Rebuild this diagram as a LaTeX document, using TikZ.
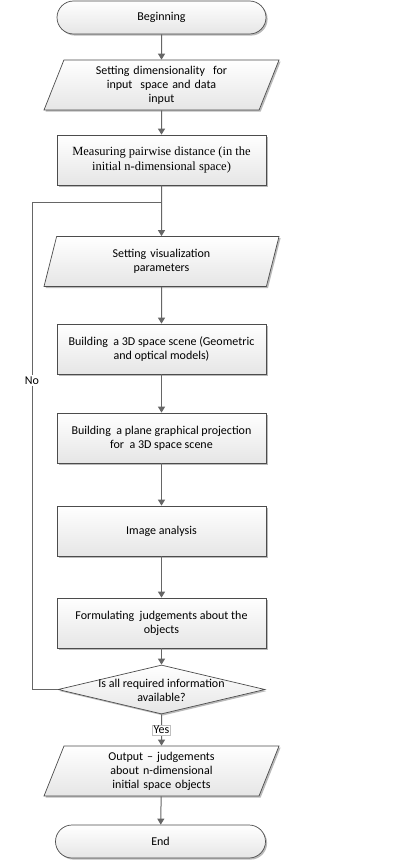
\documentclass[tikz,border=0pt]{standalone}
\usepackage{fontspec}
\setmainfont{Carlito}
\newfontfamily\tmsfont{Liberation Serif}
\usetikzlibrary{shapes.geometric,shapes.misc,shadows,arrows.meta}
\begin{document}
\begin{tikzpicture}[x=1pt,y=-1pt,
  base/.style={draw=black!70, line width=0.7pt, top color=white, bottom color=black!10,
    drop shadow={shadow xshift=1.6pt,shadow yshift=-1.6pt,fill=black!45,opacity=0.6},
    font=\fontsize{12}{14}\selectfont, align=center, text=black},
  proc/.style={base, rectangle, minimum width=209pt, minimum height=50pt, inner sep=0pt},
  term/.style={base, rounded rectangle, minimum width=209pt, minimum height=33pt, inner sep=0pt},
  io/.style={base, trapezium, trapezium left angle=62.5, trapezium right angle=117.5,
    trapezium stretches body, minimum width=235pt, minimum height=50pt, inner sep=0pt, text width=160pt},
  decis/.style={base, diamond, minimum width=207pt, minimum height=49pt, inner sep=0pt},
  txt/.style={font=\fontsize{12}{14}\selectfont, align=center, text=black, inner sep=0pt},
  conn/.style={draw=black!60, line width=1pt},
  arr/.style={conn, -{Triangle[width=7pt,length=6pt]}},
  lbl/.style={fill=white, font=\fontsize{12}{12}\selectfont, inner sep=1.2pt, text=black}
]
\useasboundingbox (0,0) rectangle (404,864);

\node[term] (beg) at (161.5,17.5) {Beginning};
\node[io] (inp) at (161.5,85) {Setting dimensionality\ \ for\\input\ \ space and data\\input};
\node[proc, font=\tmsfont\fontsize{12.5}{15}\selectfont] (meas) at (161.5,160) {Measuring pairwise distance (in the\\initial n-dimensional space)};
\node[io] (vis) at (161.5,261.5) {Setting visualization\\parameters};
\node[proc] (scene) at (161.5,349) {Building\ \ a 3D space scene (Geometric\\and optical models)};
\node[proc] (proj) at (161.5,438) {Building\ \ a plane graphical projection\\for\ \ a 3D space scene};
\node[proc] (img) at (161.5,531) {Image analysis};
\node[proc] (judg) at (161.5,623) {Formulating\ \ judgements about the\\objects};
\node[decis] (dc) at (161.5,689.5) {};
\node[txt] (dctxt) at (161.5,690) {Is all required information\\available?};
\node[io] (out) at (161.5,771) {Output -- judgements\\about n-dimensional\\initial space objects};
\node[term, minimum width=210pt] (fin) at (160.5,841.5) {End};

\coordinate (jn) at (161.5,202);
\coordinate (lc) at (32,202);

\draw[arr] (beg) -- (inp);
\draw[arr] (inp) -- (meas);
\draw[arr] (meas) -- (vis);
\draw[arr] (vis) -- (scene);
\draw[arr] (scene) -- (proj);
\draw[arr] (proj) -- (img);
\draw[arr] (img) -- (judg);
\draw[arr] (judg) -- (dc);
\draw[arr] (dc) -- node[lbl, draw=black!25, line width=0.5pt]{Yes} (out);
\draw[arr] (out) -- (fin);
\draw[conn] (dc.west) -| node[lbl, pos=0.817]{No} (lc) -- (jn);
\end{tikzpicture}
\end{document}
